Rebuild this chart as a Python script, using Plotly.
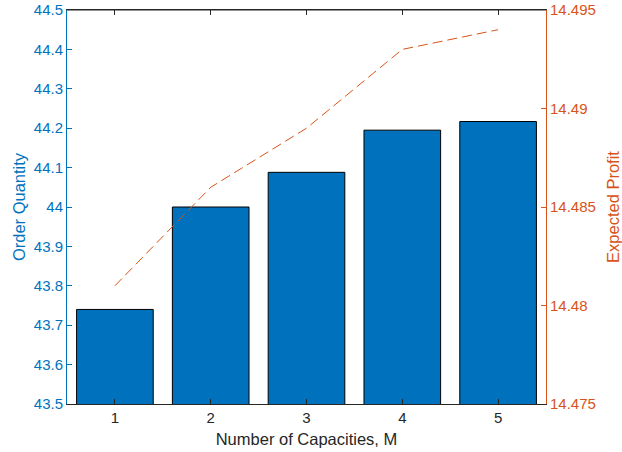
import plotly.graph_objects as go

capacities = [1, 2, 3, 4, 5]
order_quantity = [43.74, 44.0, 44.088, 44.195, 44.217]
expected_profit = [14.481, 14.486, 14.489, 14.493, 14.494]

blue = "#0072BD"
orange = "#D95319"
dark = "#262626"
font_family = "Liberation Sans, Arial, Helvetica, sans-serif"

fig = go.Figure()
fig.add_trace(go.Bar(
    x=capacities, y=order_quantity, width=0.8,
    marker=dict(color=blue, line=dict(color="#000000", width=1)),
    yaxis="y", showlegend=False,
))
fig.add_trace(go.Scatter(
    x=capacities, y=expected_profit, mode="lines",
    line=dict(color=orange, width=1, dash="10px,5px"),
    yaxis="y2", showlegend=False,
))

fig.update_layout(
    width=622, height=452,
    margin=dict(l=67, r=76, t=10, b=48),
    paper_bgcolor="white", plot_bgcolor="white",
    font=dict(family=font_family, size=15, color=dark),
    xaxis=dict(
        range=[0.5, 5.5], tickvals=capacities, ticktext=[str(c) for c in capacities],
        ticks="inside", ticklen=5, tickcolor=dark, showline=True, linecolor=dark,
        linewidth=1, mirror="ticks", showgrid=False, zeroline=False, automargin=False,
        title=dict(text="Number of Capacities, M", font=dict(size=16.5, color=dark), standoff=8),
        tickfont=dict(size=15, color=dark),
    ),
    yaxis=dict(
        range=[43.5, 44.5], tickvals=[43.5 + 0.1 * i for i in range(11)],
        ticktext=["43.5", "43.6", "43.7", "43.8", "43.9", "44", "44.1", "44.2", "44.3", "44.4", "44.5"],
        ticks="inside", ticklen=5, tickcolor=blue, showline=True, linecolor=blue,
        linewidth=1, showgrid=False, zeroline=False, automargin=False,
        tickfont=dict(size=15, color=blue),
        title=dict(text="Order Quantity", font=dict(size=16.5, color=blue), standoff=4),
    ),
    yaxis2=dict(
        range=[14.475, 14.495], tickvals=[14.475, 14.48, 14.485, 14.49, 14.495],
        ticktext=["14.475", "14.48", "14.485", "14.49", "14.495"],
        overlaying="y", side="right", anchor="x",
        ticks="inside", ticklen=5, tickcolor=orange, showline=True, linecolor=orange,
        linewidth=1, showgrid=False, zeroline=False, automargin=False,
        tickfont=dict(size=15, color=orange),
        title=dict(text="Expected Profit", font=dict(size=16.5, color=orange), standoff=16),
    ),
)

# top box line (MATLAB box on)
fig.add_shape(type="line", xref="paper", yref="paper", x0=0, x1=1, y0=1, y1=1,
              line=dict(color=dark, width=1))

fig.write_html("out.html")
